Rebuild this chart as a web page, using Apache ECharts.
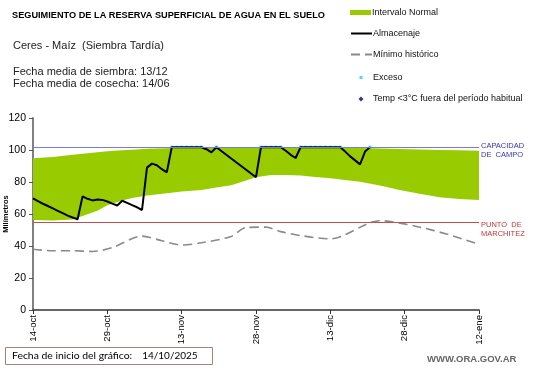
<!DOCTYPE html>
<html><head><meta charset="utf-8">
<script src="https://cdn.jsdelivr.net/npm/echarts@6/dist/echarts.min.js"></script>
<style>html,body{margin:0;padding:0;background:#fff}#c{width:541px;height:368px}</style>
</head><body><div id="c"></div>
<script>
// ---- data ----
const tickLabels = ['14-oct','29-oct','13-nov','28-nov','13-dic','28-dic','12-ene'];
const capacidadCampo = 101.7;
const puntoMarchitez = 54.6;
// Intervalo normal (band), day offsets from 14-oct
const bandDays = [0,4,8,10,13,15,18,20,23,27,30,34,37,40,43,45,48,51,54,57,60,63,66,70,74,78,82,86,90];
const bandLow  = [56.2,56.0,56.5,58.7,62,65.5,68.5,70,71.5,73,74,75,76.5,78,81,83,84.4,84.3,84,83.2,82.3,81.3,80.2,77.8,75,72.6,70.4,69.3,68.7];
const bandHigh = [94.8,95.6,97,97.6,98.6,99.2,99.8,100.2,100.8,101.1,101.2,101.2,101.2,101.2,101.2,101.2,101.2,101.2,101.2,101.2,101.2,101.2,101.2,101,100.6,100.3,100,99.8,99.6];
// Almacenaje, one value per day from 14-oct
const almacenaje = [69.8,68,66.4,65,63.5,62,60.5,59,57.8,56.7,
  71,69.5,68.5,69,68.8,67.8,66.5,65.3,68.3,67,
  65.5,64.2,62.5,89,91.5,90.5,88,86,101.7,101.7,
  101.7,101.7,101.7,101.7,101.7,100.5,98.5,101.7,99.4,97,
  94.7,92.3,90,87.7,85.3,83,101.7,101.7,101.7,101.7,
  101.7,99.5,97,95,101.7,101.7,101.7,101.7,101.7,101.7,
  101.7,101.7,101.7,99,96,93.5,91,99,101.7];
const excesoDays = [28,29,30,31,32,33,34,37,46,47,48,49,50,54,55,56,57,58,59,60,61,62,68];
const minimoDays = [0,4,8,12,16,22,26,30,34,40,43,47,50,54,60,70,77,84,90];
const minimoVals = [38,37,37,36.6,39,46.2,43.3,40.6,42,46,51.5,51.8,49,46.5,44.5,55.8,52.5,47,41];
const tempBaja = [];
const nDays = 91;

const dayCats = Array.from({length:nDays}, (_, i) => String(i));
const chart = echarts.init(document.getElementById('c'), null, {renderer:'canvas'});
const F = 'Liberation Sans, Arial, sans-serif';
function leg(item, top, w, h, left, padLeft){
  return {data:[item], left:left, top:top, itemWidth:w, itemHeight:h, padding:0, selectedMode:false, itemGap:0,
    textStyle:{fontFamily:F, fontSize:9, color:'#111', lineHeight:11, padding:[0,0,0,padLeft]}};
}
chart.setOption({
  animation:false,
  backgroundColor:'#fff',
  title:[
    {text:'SEGUIMIENTO DE LA RESERVA SUPERFICIAL DE AGUA EN EL SUELO', left:12, top:11, padding:0,
     textStyle:{fontFamily:F, fontSize:9.2, fontWeight:'bold', color:'#000'}},
    {text:'Ceres - Maíz  (Siembra Tardía)', left:13, top:40, padding:0,
     textStyle:{fontFamily:F, fontSize:11, fontWeight:'normal', color:'#222'}},
    {text:'Fecha media de siembra: 13/12\nFecha media de cosecha: 14/06', left:13, top:66, padding:0,
     textStyle:{fontFamily:F, fontSize:11, fontWeight:'normal', color:'#222', lineHeight:12}},
    {text:'{a|Fecha de inicio del gráfico:}{b|14/10/2025}', left:5, top:347, padding:[4,15,4,7],
     borderColor:'#a88080', borderWidth:1,
     textStyle:{rich:{a:{fontFamily:'Lato', fontSize:10.4, fontWeight:'normal', color:'#000'},
                      b:{fontFamily:'Lato', fontSize:10, fontWeight:'normal', color:'#000', padding:[0,0,0,10]}}}},
    {text:'WWW.ORA.GOV.AR', left:427, top:354, padding:0,
     textStyle:{fontFamily:F, fontSize:9.5, fontWeight:'bold', color:'#666'}}
  ],
  legend:[
    leg({name:'Intervalo Normal', icon:'rect'}, 7, 21, 5, 350, -4),
    leg({name:'Almacenaje', itemStyle:{opacity:0}}, 28, 21, 11, 350, -4),
    leg({name:'Mínimo histórico', itemStyle:{opacity:0}}, 49, 21, 11, 350, -4),
    leg({name:'Exceso'}, 72, 3, 3, 359.5, 5.5),
    leg({name:'Temp <3°C fuera del período habitual'}, 93.5, 5, 5, 358.5, 4.5)
  ],
  grid:{left:33, right:62, top:118, bottom:58, containLabel:false, outerBoundsMode:'none'},
  xAxis:{type:'category', data:dayCats, boundaryGap:false,
    axisLine:{show:true, lineStyle:{color:'#333', width:1.5}},
    axisTick:{show:true, length:4, interval:14, lineStyle:{color:'#333'}},
    splitLine:{show:false},
    axisLabel:{rotate:90, interval:14, fontFamily:F, fontSize:9.6, color:'#000', margin:5,
      formatter:(v, idx) => tickLabels[Math.round(idx/15)]}},
  yAxis:{type:'value', min:0, max:120, interval:20,
    name:'Milímetros', nameLocation:'middle', nameGap:23, nameMoveOverlap:false,
    nameTextStyle:{fontFamily:F, fontSize:7.5, fontWeight:'bold', color:'#000'},
    axisLine:{show:true, lineStyle:{color:'#808080', width:2}},
    axisTick:{show:true, length:4, lineStyle:{color:'#555'}},
    splitLine:{show:false},
    axisLabel:{fontFamily:F, fontSize:10.5, color:'#000', margin:7}},
  series:[
    {name:'base', type:'line', stack:'band', symbol:'none', silent:true,
     lineStyle:{width:0, opacity:0}, data:bandDays.map((d,i)=>[d,bandLow[i]])},
    {name:'Intervalo Normal', type:'line', stack:'band', symbol:'none', silent:true,
     itemStyle:{color:'#99cc00'},
     lineStyle:{width:0, opacity:0}, areaStyle:{color:'#99cc00', opacity:1},
     data:bandDays.map((d,i)=>[d,+(bandHigh[i]-bandLow[i]).toFixed(2)]),
     markLine:{silent:true, symbol:'none', animation:false,
       data:[
        {yAxis:capacidadCampo, lineStyle:{color:'#7080d8', width:1, type:'solid'},
         label:{show:true, position:'end', distance:2, formatter:'CAPACIDAD\nDE  CAMPO', color:'#3535b0',
           fontFamily:F, fontSize:7.5, lineHeight:9, offset:[0,3]}},
        {yAxis:puntoMarchitez, lineStyle:{color:'#c0504d', width:1, type:'solid'},
         label:{show:true, position:'end', distance:2, formatter:'PUNTO  DE\nMARCHITEZ', color:'#c03838',
           fontFamily:F, fontSize:7.5, lineHeight:9, offset:[0,7]}}
       ]}},
    {name:'Mínimo histórico', type:'line', symbol:'none', smooth:0.3,
     itemStyle:{color:'#8a8a8a'},
     lineStyle:{color:'#8a8a8a', width:1.6, type:[9,5]},
     data:minimoDays.map((d,i)=>[d,minimoVals[i]])},
    {name:'Almacenaje', type:'line', symbol:'none',
     itemStyle:{color:'#000'}, lineStyle:{color:'#000', width:2},
     data:almacenaje.map((v,i)=>[i,v])},
    {name:'Exceso', type:'scatter', symbol:'rect', symbolSize:3.2,
     itemStyle:{color:'#2ec6f0'}, data:excesoDays.map(d=>[d,capacidadCampo])},
    {name:'Temp <3°C fuera del período habitual', type:'scatter', symbol:'diamond', symbolSize:5,
     itemStyle:{color:'#000080'}, data:tempBaja}
  ]
});
</script></body></html>
